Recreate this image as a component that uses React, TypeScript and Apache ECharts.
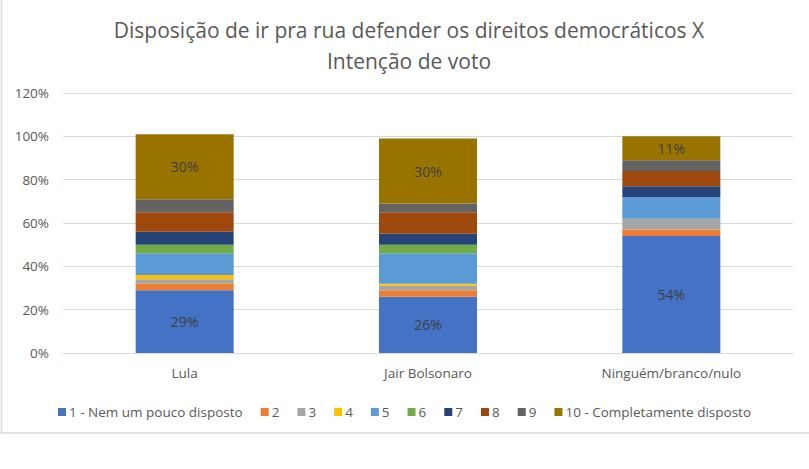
import React, { useEffect, useRef } from "react";
import * as echarts from "echarts";

const categories = ["Lula", "Jair Bolsonaro", "Ninguém/branco/nulo"];
const seriesNames = [
  "1 - Nem um pouco disposto",
  "2",
  "3",
  "4",
  "5",
  "6",
  "7",
  "8",
  "9",
  "10 - Completamente disposto",
];
const s1 = [29, 26, 54];
const s2 = [3, 3, 3];
const s3 = [2, 2, 5];
const s4 = [2, 1, 0];
const s5 = [10, 14, 10];
const s6 = [4, 4, 0];
const s7 = [6, 5, 5];
const s8 = [9, 10, 7];
const s9 = [6, 4, 5];
const s10 = [30, 30, 11];
const seriesValues = [s1, s2, s3, s4, s5, s6, s7, s8, s9, s10];
const colors = [
  "#4472C4",
  "#ED7D31",
  "#A5A5A5",
  "#FFC000",
  "#5B9BD5",
  "#70AD47",
  "#264478",
  "#9E480E",
  "#636363",
  "#997300",
];
const labelled = [0, 9];
const yTicks = [0, 20, 40, 60, 80, 100, 120];

const FONT = "'Open Sans', 'Noto Sans', sans-serif";

export default function App() {
  const ref = useRef<HTMLDivElement>(null);
  useEffect(() => {
    document.body.style.margin = "0";
    const chart = echarts.init(ref.current!, null, { renderer: "svg" });
    chart.setOption({
      animation: false,
      backgroundColor: "#ffffff",
      textStyle: { fontFamily: FONT },
      title: {
        text: "Disposição de ir pra rua defender os direitos democráticos X\nIntenção de voto",
        left: 404,
        textAlign: "center",
        top: 9,
        textStyle: {
          fontFamily: FONT,
          fontSize: 21,
          fontWeight: "normal",
          color: "#595959",
          lineHeight: 31,
        },
      },
      graphic: [
        {
          type: "rect",
          shape: { x: 1.5, y: -5, width: 820, height: 438 },
          style: { fill: "none", stroke: "#d9d9d9", lineWidth: 1.5 },
          silent: true,
        },
      ],
      legend: {
        data: seriesNames,
        left: "center",
        top: 400,
        icon: "rect",
        itemWidth: 8,
        itemHeight: 8,
        itemGap: 18,
        textStyle: { fontFamily: FONT, fontSize: 13.5, color: "#595959", padding: [0, 0, 0, -2] },
      },
      grid: { left: 63, right: 16, top: 93, bottom: 116, containLabel: false },
      xAxis: {
        type: "category",
        data: categories,
        axisLine: { lineStyle: { color: "#d9d9d9", width: 1 } },
        axisTick: { show: false },
        axisLabel: { fontFamily: FONT, fontSize: 13.5, color: "#595959", margin: 13 },
      },
      yAxis: {
        type: "value",
        min: yTicks[0],
        max: yTicks[yTicks.length - 1],
        interval: 20,
        axisLine: { show: false },
        axisTick: { show: false },
        splitLine: { lineStyle: { color: "#d9d9d9", width: 1 } },
        axisLabel: {
          fontFamily: FONT,
          fontSize: 13.5,
          color: "#595959",
          margin: 14,
          formatter: (v: number) => v + "%",
        },
      },
      series: seriesValues.map((vals, i) => ({
        name: seriesNames[i],
        type: "bar",
        stack: "total",
        data: vals,
        barWidth: 98,
        itemStyle: { color: colors[i] },
        label: {
          show: labelled.includes(i),
          position: "inside",
          formatter: (p: any) => p.value + "%",
          fontFamily: FONT,
          fontSize: 14,
          color: "#404040",
        },
      })),
    });
    return () => chart.dispose();
  }, []);
  return <div ref={ref} style={{ width: 809, height: 469 }} />;
}
